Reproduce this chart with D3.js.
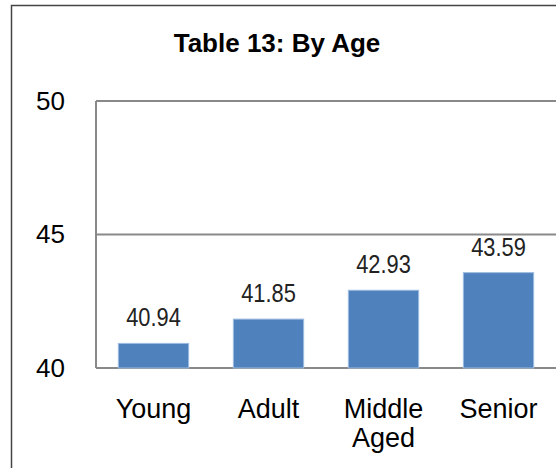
<!DOCTYPE html>
<html><head><meta charset="utf-8">
<script src="https://cdn.jsdelivr.net/npm/d3@7"></script>
<style>body{margin:0;background:#fff}svg{display:block}</style>
</head><body>
<script>
const categories = [["Young"], ["Adult"], ["Middle", "Aged"], ["Senior"]];
const values = [40.94, 41.85, 42.93, 43.59];
const yTicks = [40, 45, 50];
const title = "Table 13: By Age";

(function () {
const W = 556, H = 468;
const svg = d3.select("body").append("svg").attr("width", W).attr("height", H);
svg.append("rect").attr("x", 11.5).attr("y", 5.5).attr("width", 600).attr("height", 600)
  .attr("fill", "#fff").attr("stroke", "#444").attr("stroke-width", 1.5);

const pL = 96, pR = 556, pT = 101, pB = 368;
const x = d3.scaleBand().domain(d3.range(values.length)).range([pL, pR]).paddingInner(0.38).paddingOuter(0.19);
const y = d3.scaleLinear().domain([40, 50]).range([pB, pT]);

svg.append("text").attr("x", 277).attr("y", 52).attr("text-anchor", "middle")
  .attr("font-family", "Liberation Sans, Arial, sans-serif").attr("font-weight", "bold")
  .attr("font-size", 26).text(title);

svg.selectAll("line.grid").data(yTicks).enter().append("line")
  .attr("x1", pL).attr("x2", pR).attr("y1", d => y(d)).attr("y2", d => y(d))
  .attr("stroke", "#898989").attr("stroke-width", 2);
svg.append("line").attr("x1", pL).attr("x2", pL).attr("y1", pT).attr("y2", pB)
  .attr("stroke", "#898989").attr("stroke-width", 2);

const yAxis = d3.axisLeft(y).tickValues(yTicks).tickSize(0).tickPadding(0);
const ga = svg.append("g").attr("transform", `translate(${65},0)`).call(yAxis);
ga.select(".domain").remove();
ga.selectAll("text").attr("font-family", "Liberation Sans, Arial, sans-serif").attr("font-size", 26).attr("fill", "#000");

svg.selectAll("rect.bar").data(values).enter().append("rect")
  .attr("x", (d, i) => x(i) + 0.5).attr("width", x.bandwidth() - 1)
  .attr("y", d => y(d) + 0.5).attr("height", d => pB - y(d) - 0.5)
  .attr("fill", "#4f81bd").attr("stroke", "#9dbbe0").attr("stroke-width", 1);

svg.selectAll("text.lbl").data(values).enter().append("text")
  .attr("transform", (d, i) => `translate(${x(i) + x.bandwidth() / 2},${y(d) - 16.5}) scale(0.84,1)`)
  .attr("text-anchor", "middle").attr("font-family", "Liberation Sans, Arial, sans-serif")
  .attr("font-size", 26).attr("fill", "#222").text(d => d.toFixed(2));

const cl = svg.selectAll("text.cat").data(categories).enter().append("text")
  .attr("text-anchor", "middle").attr("font-family", "Liberation Sans, Arial, sans-serif").attr("font-size", 27);
cl.each(function(d, i) {
  const t = d3.select(this);
  d.forEach((s, j) => t.append("tspan").attr("x", x(i) + x.bandwidth() / 2).attr("y", 418 + j * 29).text(s));
});
})();
</script>
</body></html>
